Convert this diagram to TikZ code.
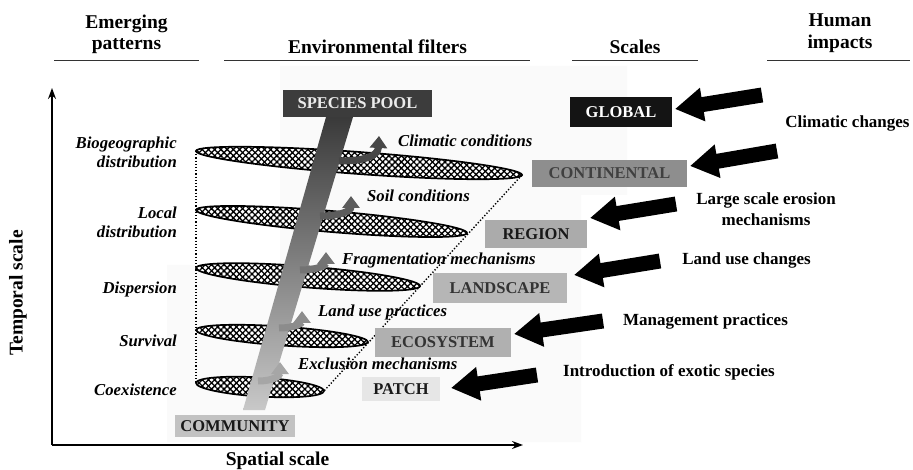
\documentclass[tikz,border=0pt]{standalone}
\usepackage{fontspec}
\setmainfont{Liberation Serif}
\usetikzlibrary{arrows.meta,patterns.meta}
\definecolor{poolc}{HTML}{3C3C3C}
\definecolor{globc}{HTML}{141414}
\definecolor{contc}{HTML}{8E8E8E}
\definecolor{regc}{HTML}{ABABAB}
\definecolor{landc}{HTML}{B6B6B6}
\definecolor{ecoc}{HTML}{B0B0B0}
\definecolor{patchc}{HTML}{E6E6E6}
\definecolor{commc}{HTML}{C2C2C2}
\definecolor{bgc}{HTML}{FAFAFA}
\definecolor{bandtop}{HTML}{3A3A3A}
\definecolor{bandbot}{HTML}{C8C8C8}
\begin{document}
\begin{tikzpicture}[x=1pt,y=-1pt,
  hdr/.style={font=\bfseries\fontsize{19.5}{23}\selectfont, inner sep=0pt},
  lab/.style={font=\bfseries\itshape\fontsize{16.7}{20}\selectfont, inner sep=0pt},
  imp/.style={font=\bfseries\fontsize{17}{21}\selectfont, inner sep=0pt},
  scalebox/.style={font=\bfseries\fontsize{16.5}{19}\selectfont, inner sep=0pt, text=black!90},
  rulel/.style={line width=1.2pt, draw=black!80},
  ell/.style={draw=black, line width=1.7pt, preaction={fill=white},
              pattern={Hatch[angle=45,distance=4.4pt,line width=1.3pt]}},
  dotl/.style={line width=1.4pt, dash pattern=on 1.3pt off 1.9pt},
  axisline/.style={line width=1.3pt, -{Stealth[length=11pt,width=8pt]}},
  branch/.style={line width=7pt, -{Triangle[width=17pt,length=12pt]}},
  impact/.style={line width=15pt, -{Triangle[width=32pt,length=28pt]}, draw=black},
]
\useasboundingbox (0,0) rectangle (913,470);
\fill[white] (0,0) rectangle (913,470);
% faint scanned background
\fill[bgc] (280,66) -- (627,66) -- (627,195) -- (581,195) -- (581,442) -- (167,442) -- (167,265) -- (280,265) -- cycle;

% headers
\node[hdr, anchor=base] (h1a) at (126.5,29) {Emerging};
\node[hdr, anchor=base] (h1b) at (126.5,50) {patterns};
\node[hdr, anchor=base] (h2) at (377.5,54) {Environmental filters};
\node[hdr, anchor=base] (h3) at (635,54) {Scales};
\node[hdr, anchor=base] (h4a) at (840,27) {Human};
\node[hdr, anchor=base] (h4b) at (840,49) {impacts};
\draw[rulel] (54,60.5) -- (199,60.5);
\draw[rulel] (224,60.5) -- (530,60.5);
\draw[rulel] (572,60.5) -- (698,60.5);
\draw[rulel] (767,60.5) -- (910,60.5);

% axes
\coordinate (org) at (52,445);
\coordinate (ytop) at (52,88);
\coordinate (xend) at (523,445);
\draw[axisline] (org) -- (ytop);
\draw[axisline] (org) -- (xend);
\node[hdr, anchor=base] (sx) at (277.5,465) {Spatial scale};
\node[hdr, rotate=90] (sy) at (18,293) {Temporal scale};

% ellipses
\path[ell, rotate around={-4.2:(359,163)}] (359,163) ellipse [x radius=163.5, y radius=11];
\path[ell, rotate around={-4.85:(331.5,221.5)}] (331.5,221.5) ellipse [x radius=136, y radius=10.5];
\path[ell, rotate around={-4.6:(308,277)}] (308,277) ellipse [x radius=112.4, y radius=10.5];
\path[ell, rotate around={-4.0:(282,336)}] (282,336) ellipse [x radius=86.2, y radius=9.5];
\path[ell, rotate around={-3.6:(260,387)}] (260,387) ellipse [x radius=64.1, y radius=9.5];
\coordinate (e1l) at (196,151);
\coordinate (e5l) at (196,383);
\coordinate (e1r) at (522,175);
\coordinate (e5r) at (324,391);
\draw[dotl] (e1l) -- (e5l);
\draw[dotl] (e1r) -- (e5r);

% species flow band
\shade[top color=bandtop, bottom color=bandbot] (326,117) -- (353,117) -- (265,410) -- (243,410) -- cycle;
\draw[branch, draw=black!72] (339,161) .. controls (362,161) and (378,157) .. (379,136);
\draw[branch, draw=black!64] (320,216) .. controls (340,216) and (351,211) .. (351,196);
\draw[branch, draw=black!55] (300,270) .. controls (318,270) and (326,265) .. (326,252);
\draw[branch, draw=black!45] (279,328) .. controls (295,328) and (302,323) .. (302,311);
\draw[branch, draw=black!35] (258,381) .. controls (273,381) and (280,376) .. (280,362);

% emerging pattern labels
\node[lab, anchor=base east] (l1a) at (177,149) {Biogeographic};
\node[lab, anchor=base east] (l1b) at (177,168) {distribution};
\node[lab, anchor=base east] (l2a) at (177,219) {Local};
\node[lab, anchor=base east] (l2b) at (177,238) {distribution};
\node[lab, anchor=base east] (l3) at (177,294) {Dispersion};
\node[lab, anchor=base east] (l4) at (177,346) {Survival};
\node[lab, anchor=base east] (l5) at (177,395) {Coexistence};

% filter labels
\node[lab, anchor=base west] (f1) at (398,147) {Climatic conditions};
\node[lab, anchor=base west] (f2) at (367,202) {Soil conditions};
\node[lab, anchor=base west] (f3) at (342,265) {Fragmentation mechanisms};
\node[lab, anchor=base west] (f4) at (318,317) {Land use practices};
\node[lab, anchor=base west] (f5) at (298,370) {Exclusion mechanisms};

% scale boxes
\node[scalebox, fill=poolc, text=white!92!black, minimum width=149, minimum height=27] (pool) at (357.5,103.5) {SPECIES POOL};
\node[scalebox, fill=globc, text=white, minimum width=102, minimum height=30] (global) at (621,112) {GLOBAL};
\node[scalebox, fill=contc, text=black!75, minimum width=155, minimum height=27] (cont) at (609.5,173.5) {CONTINENTAL};
\node[scalebox, fill=regc, minimum width=102, minimum height=28] (region) at (536,234) {REGION};
\node[scalebox, fill=landc, text=black!80, minimum width=134, minimum height=30] (land) at (500,288) {LANDSCAPE};
\node[scalebox, fill=ecoc, text=black!80, minimum width=136, minimum height=29] (eco) at (443,342.5) {ECOSYSTEM};
\node[scalebox, fill=patchc, minimum width=78, minimum height=24] (patch) at (401,389) {PATCH};
\node[scalebox, fill=commc, minimum width=120, minimum height=22] (comm) at (235,426) {COMMUNITY};

% human impacts
\node[imp, anchor=base] (i1) at (847.5,128) {Climatic changes};
\node[imp, anchor=base] (i2a) at (766,205) {Large scale erosion};
\node[imp, anchor=base] (i2b) at (766,226) {mechanisms};
\node[imp, anchor=base] (i3) at (746.5,265) {Land use changes};
\node[imp, anchor=base] (i4) at (705.5,326) {Management practices};
\node[imp, anchor=base] (i5) at (669,376) {Introduction of exotic species};

\coordinate (t1) at (762,95);  \coordinate (a1) at (675,109);
\coordinate (t2) at (777,151); \coordinate (a2) at (690,166);
\coordinate (t3) at (676,204); \coordinate (a3) at (590,218);
\coordinate (t4) at (660,261); \coordinate (a4) at (574,275);
\coordinate (t5) at (603,321); \coordinate (a5) at (514,334);
\coordinate (t6) at (537,375); \coordinate (a6) at (451,388);
\draw[impact] (t1) -- (a1);
\draw[impact] (t2) -- (a2);
\draw[impact] (t3) -- (a3);
\draw[impact] (t4) -- (a4);
\draw[impact] (t5) -- (a5);
\draw[impact] (t6) -- (a6);
\end{tikzpicture}
\end{document}
